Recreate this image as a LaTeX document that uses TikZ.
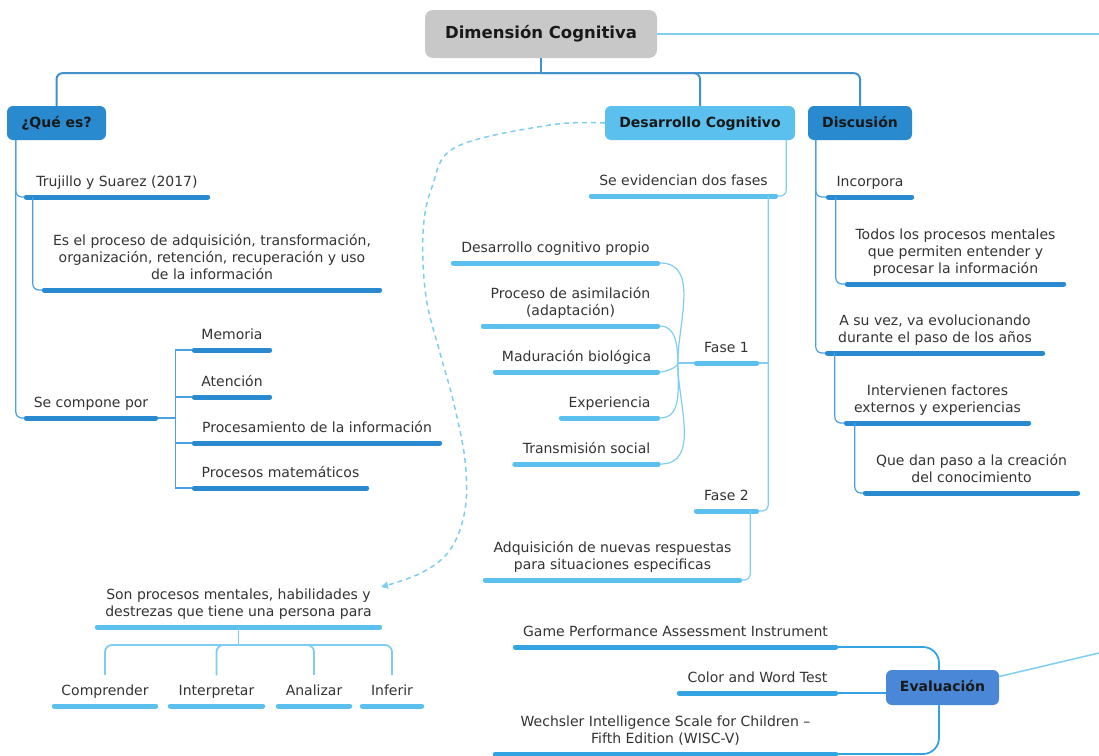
\documentclass[tikz,border=0pt]{standalone}
\usepackage{fontspec}
\setmainfont{DejaVu Sans}
\usetikzlibrary{arrows.meta}
\definecolor{dkb}{HTML}{2A8AD0}
\definecolor{ltb}{HTML}{5BC0EE}
\definecolor{evb}{HTML}{4A87D6}
\definecolor{evl}{HTML}{34A3E2}
\definecolor{rootg}{HTML}{C8C8C8}
\definecolor{txt}{HTML}{333333}
\definecolor{cdk}{HTML}{4AA0E0}
\definecolor{clt}{HTML}{80CDF2}
\newcommand\txtfont{\fontsize{14}{17}\selectfont}
\newcommand\boxfont{\fontsize{14}{17}\selectfont\bfseries}
\begin{document}
\begin{tikzpicture}[x=1pt,y=-1pt,
  topic/.style={font=\txtfont, text=txt, inner xsep=0pt, inner ysep=10pt, text depth=0pt, align=center, anchor=south,
    append after command={(\tikzlastnode.south west) edge[draw=#1, line width=5pt, line cap=round, shorten <=2.5pt, shorten >=2.5pt] (\tikzlastnode.south east)}},
  mbox/.style={rounded corners=6pt, fill=#1, font=\boxfont, text=black!90, minimum height=34pt, inner sep=0pt, text height=10.5pt, text depth=2.5pt},
  topc/.style={draw=cdk!90!black, line width=2pt},
  rootc/.style={draw=clt, line width=1.5pt},
  cdkl/.style={draw=cdk, line width=1.2pt},
  cltl/.style={draw=clt, line width=1.2pt},
  evc/.style={draw=evl, line width=1.8pt},
  dashc/.style={draw=clt, line width=1.5pt, dash pattern=on 5pt off 4pt, -{Triangle[length=7pt,width=7pt]}}
]
\useasboundingbox (0,0) rectangle (1099,755);

% main boxes
\node[mbox=rootg, minimum width=232pt, minimum height=48pt, rounded corners=8pt, font=\fontsize{16.5}{20}\selectfont\bfseries, text height=12pt, text depth=3pt] (root) at (541,34) {Dimensión Cognitiva};
\node[mbox=dkb, minimum width=99pt] (qe) at (56.5,123) {¿Qué es?};
\node[mbox=ltb, minimum width=190pt] (dc) at (700,123) {Desarrollo Cognitivo};
\node[mbox=dkb, minimum width=104pt] (dis) at (860,123) {Discusión};
\node[mbox=evb, minimum width=113pt, minimum height=35pt] (ev) at (942.5,687.5) {Evaluación};

% ¿Qué es? branch
\node[topic=dkb, minimum width=186pt] (tru) at (117,197) {Trujillo y Suarez (2017)};
\node[topic=dkb, minimum width=340pt] (esp) at (212,290) {Es el proceso de adquisición, transformación,\\organización, retención, recuperación y uso\\de la información};
\node[topic=dkb, minimum width=134pt] (sc) at (91,418) {Se compone por};
\node[topic=dkb, minimum width=80pt] (mem) at (232,350) {Memoria};
\node[topic=dkb, minimum width=80pt] (ate) at (232,397) {Atención};
\node[topic=dkb, minimum width=250pt] (pro) at (317,443) {Procesamiento de la información};
\node[topic=dkb, minimum width=177pt] (mat) at (280.5,488) {Procesos matemáticos};

% Desarrollo Cognitivo branch
\node[topic=ltb, minimum width=189pt] (sed) at (683.5,196) {Se evidencian dos fases};
\node[topic=ltb, minimum width=65pt] (f1) at (726.5,363) {Fase 1};
\node[topic=ltb, minimum width=65pt] (f2) at (726.5,511) {Fase 2};
\node[topic=ltb, minimum width=209pt] (dcp) at (555.5,263) {Desarrollo cognitivo propio};
\node[topic=ltb, minimum width=179pt] (pas) at (570.5,326) {Proceso de asimilación\\(adaptación)};
\node[topic=ltb, minimum width=167pt] (mad) at (576.5,372) {Maduración biológica};
\node[topic=ltb, minimum width=101pt] (exq) at (609.5,418) {Experiencia};
\node[topic=ltb, minimum width=148pt] (tra) at (586.5,464) {Transmisión social};
\node[topic=ltb, minimum width=259pt] (adq) at (612.5,580) {Adquisición de nuevas respuestas\\para situaciones especificas};

% Son procesos branch
\node[topic=ltb, minimum width=287pt] (son) at (238.5,627) {Son procesos mentales, habilidades y\\destrezas que tiene una persona para};
\node[topic=ltb, minimum width=106pt] (comp) at (105,706) {Comprender};
\node[topic=ltb, minimum width=97pt] (intp) at (216.5,706) {Interpretar};
\node[topic=ltb, minimum width=76pt] (ana) at (314,706) {Analizar};
\node[topic=ltb, minimum width=64pt] (inf) at (392,706) {Inferir};

% Discusión branch
\node[topic=dkb, minimum width=88pt] (inc) at (870,197) {Incorpora};
\node[topic=dkb, minimum width=221pt] (tod) at (955.5,284) {Todos los procesos mentales\\que permiten entender y\\procesar la información};
\node[topic=dkb, minimum width=220pt] (asu) at (935,353) {A su vez, va evolucionando\\durante el paso de los años};
\node[topic=dkb, minimum width=187pt] (itv) at (937.5,423) {Intervienen factores\\externos y experiencias};
\node[topic=dkb, minimum width=217pt] (que) at (971.5,493) {Que dan paso a la creación\\del conocimiento};

% Evaluación branch
\node[topic=evl, minimum width=325pt] (game) at (675.5,647) {Game Performance Assessment Instrument};
\node[topic=evl, minimum width=161pt] (cwt) at (757.5,693) {Color and Word Test};
\node[topic=evl, minimum width=345pt] (wech) at (665.5,754) {Wechsler Intelligence Scale for Children –\\Fifth Edition (WISC-V)};

% connectors: root
\coordinate (rout) at (1099,34);
\draw[rootc] (root.east) -- (rout);
\draw[topc] (root.south) -- ++(0,15) coordinate (hub);
\draw[topc, rounded corners=6pt] (hub) -| (qe.north);
\draw[topc, rounded corners=6pt] (hub) -| (dc.north);
\draw[topc, rounded corners=6pt] (hub) -| (dis.north);

% ¿Qué es?
\draw[cdkl, rounded corners=6pt] ([xshift=9pt]qe.south west) |- (tru.south west);
\draw[cdkl, rounded corners=6pt] ([xshift=9pt]qe.south west) |- (sc.south west);
\draw[cdkl, rounded corners=6pt] ([xshift=9pt]tru.south west) |- (esp.south west);
\draw[cdkl] (sc.south east) -- ++(17,0) coordinate (scj);
\draw[cdkl] (scj) |- (mem.south west);
\draw[cdkl] (scj) |- (ate.south west);
\draw[cdkl] (scj) |- (pro.south west);
\draw[cdkl] (scj) |- (mat.south west);

% Desarrollo Cognitivo
\draw[cltl, rounded corners=6pt] ([xshift=-9pt]dc.south east) |- (sed.south east);
\draw[cltl, rounded corners=6pt] ([xshift=-10pt]sed.south east) |- (f2.south east);
\draw[cltl] (f1.south east) -- ([xshift=-10pt]sed.south east |- f1.south east);
\draw[cltl] (f1.south west) -- ++(-16,0) coordinate (j1);
\draw[cltl] (dcp.south east) to[out=0,in=90] (j1);
\draw[cltl] (pas.south east) to[out=0,in=90] (j1);
\draw[cltl] (mad.south east) to[out=0,in=-90,looseness=0.6] (j1);
\draw[cltl] (exq.south east) to[out=0,in=-90] (j1);
\draw[cltl] (tra.south east) to[out=0,in=-90] (j1);
\draw[cltl, rounded corners=6pt] ([xshift=-9pt]f2.south east) |- (adq.south east);

% dashed link
\coordinate (arrend) at (381,587);
\draw[dashc] plot[smooth, tension=0.6] coordinates {(dc.west) (550,125) (456,147) (432,187) (423,233) (426,297) (440,353) (453,400) (465,460) (465,510) (450,550) (421,573) (arrend)};

% Son procesos
\draw[cltl, line width=1.8pt] (son.south) -- ++(0,18) coordinate (sj);
\draw[cltl, line width=1.8pt, rounded corners=7pt] (sj) -| (comp.north);
\draw[cltl, line width=1.8pt, rounded corners=7pt] (sj) -| (intp.north);
\draw[cltl, line width=1.8pt, rounded corners=7pt] (sj) -| (ana.north);
\draw[cltl, line width=1.8pt, rounded corners=7pt] (sj) -| (inf.north);

% Discusión
\draw[cdkl, rounded corners=6pt] ([xshift=8pt]dis.south west) |- (inc.south west);
\draw[cdkl, rounded corners=6pt] ([xshift=8pt]dis.south west) |- (asu.south west);
\draw[cdkl, rounded corners=6pt] ([xshift=10pt]inc.south west) |- (tod.south west);
\draw[cdkl, rounded corners=6pt] ([xshift=10pt]asu.south west) |- (itv.south west);
\draw[cdkl, rounded corners=6pt] ([xshift=11pt]itv.south west) |- (que.south west);

% Evaluación
\draw[evc, rounded corners=16pt] (game.south east) -| ([xshift=-3.5pt]ev.north);
\draw[evc] (cwt.south east) -- (ev.west |- cwt.south east);
\draw[evc, rounded corners=16pt] ([xshift=-3.5pt]ev.south) |- (wech.south east);
\coordinate (eout) at (1099,653);
\draw[rootc] ([yshift=11pt]ev.east) -- (eout);
\end{tikzpicture}
\end{document}
